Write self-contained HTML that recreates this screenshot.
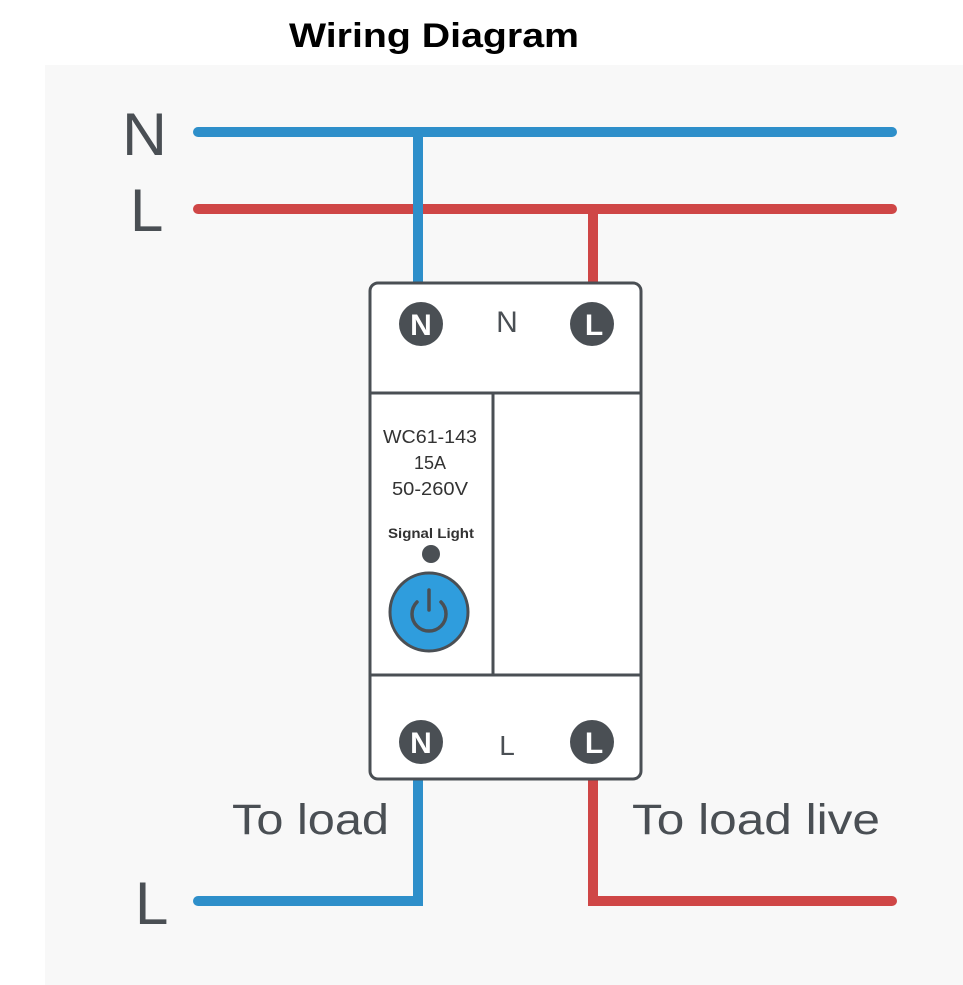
<!DOCTYPE html>
<html><head><style>
body{margin:0;background:#fff;}
</style></head><body>
<svg width="963" height="985" viewBox="0 0 963 985" xmlns="http://www.w3.org/2000/svg" style="display:block">
<rect x="45" y="65" width="918" height="920" fill="#f8f8f8"/>
<text x="289" y="47" font-family="Liberation Sans, sans-serif" font-weight="bold" font-size="34" fill="#000" textLength="290" lengthAdjust="spacingAndGlyphs">Wiring Diagram</text>
<g font-family="Liberation Sans, sans-serif" fill="#4a4f54">
<text x="122" y="155" font-size="60" textLength="45" lengthAdjust="spacingAndGlyphs">N</text>
<text x="130" y="231" font-size="60">L</text>
<text x="135" y="924" font-size="60">L</text>
<text x="232" y="834" font-size="43" textLength="157" lengthAdjust="spacingAndGlyphs">To load</text>
<text x="632" y="834" font-size="43" textLength="248" lengthAdjust="spacingAndGlyphs">To load live</text>
</g>
<g fill="none" stroke-linecap="round" stroke-width="10">
<line x1="198" y1="132" x2="892" y2="132" stroke="#2e8fca"/>
<line x1="198" y1="209" x2="892" y2="209" stroke="#cf4646"/>
<line x1="418" y1="132" x2="418" y2="285" stroke="#2e8fca" stroke-linecap="butt"/>
<line x1="593" y1="209" x2="593" y2="285" stroke="#cf4646" stroke-linecap="butt"/>
<polyline points="418,778 418,901 198,901" stroke="#2e8fca" stroke-linecap="butt" stroke-linejoin="miter"/>
<polyline points="593,778 593,901 892,901" stroke="#cf4646" stroke-linecap="butt" stroke-linejoin="miter"/>
</g>
<line x1="198" y1="901" x2="200" y2="901" stroke="#2e8fca" stroke-width="10" stroke-linecap="round"/>
<line x1="890" y1="901" x2="892" y2="901" stroke="#cf4646" stroke-width="10" stroke-linecap="round"/>
<g stroke="#4a4f54" stroke-width="3" fill="#fff">
<rect x="370" y="283" width="271" height="496" rx="8"/>
<line x1="370" y1="393" x2="641" y2="393"/>
<line x1="370" y1="675" x2="641" y2="675"/>
<line x1="493" y1="393" x2="493" y2="675"/>
</g>
<g fill="#4a4f54">
<circle cx="421" cy="324" r="22"/><circle cx="592" cy="324" r="22"/>
<circle cx="421" cy="742" r="22"/><circle cx="592" cy="742" r="22"/>
<circle cx="431" cy="554" r="9"/>
</g>
<g font-family="Liberation Sans, sans-serif" font-weight="bold" font-size="30" fill="#fff" text-anchor="middle">
<text x="421" y="335">N</text><text x="594" y="335">L</text>
<text x="421" y="753">N</text><text x="594" y="753">L</text>
</g>
<g font-family="Liberation Sans, sans-serif" fill="#333" text-anchor="middle">
<text x="507" y="332" font-size="30" fill="#4a4f54">N</text>
<text x="507" y="755" font-size="28" fill="#4a4f54">L</text>
<text x="430" y="443" font-size="18" textLength="94" lengthAdjust="spacingAndGlyphs">WC61-143</text>
<text x="430" y="469" font-size="18">15A</text>
<text x="430" y="495" font-size="18" textLength="76" lengthAdjust="spacingAndGlyphs">50-260V</text>
<text x="431" y="538" font-size="14" font-weight="bold" textLength="86" lengthAdjust="spacingAndGlyphs">Signal Light</text>
</g>
<circle cx="429" cy="612" r="39" fill="#2f9ddd" stroke="#4a4f54" stroke-width="3"/>
<path d="M417,602 A17,17 0 1 0 441,602" fill="none" stroke="#4a4f54" stroke-width="3.5" stroke-linecap="round"/>
<line x1="429" y1="590" x2="429" y2="610" stroke="#4a4f54" stroke-width="3.5" stroke-linecap="round"/>
</svg>
</body></html>
